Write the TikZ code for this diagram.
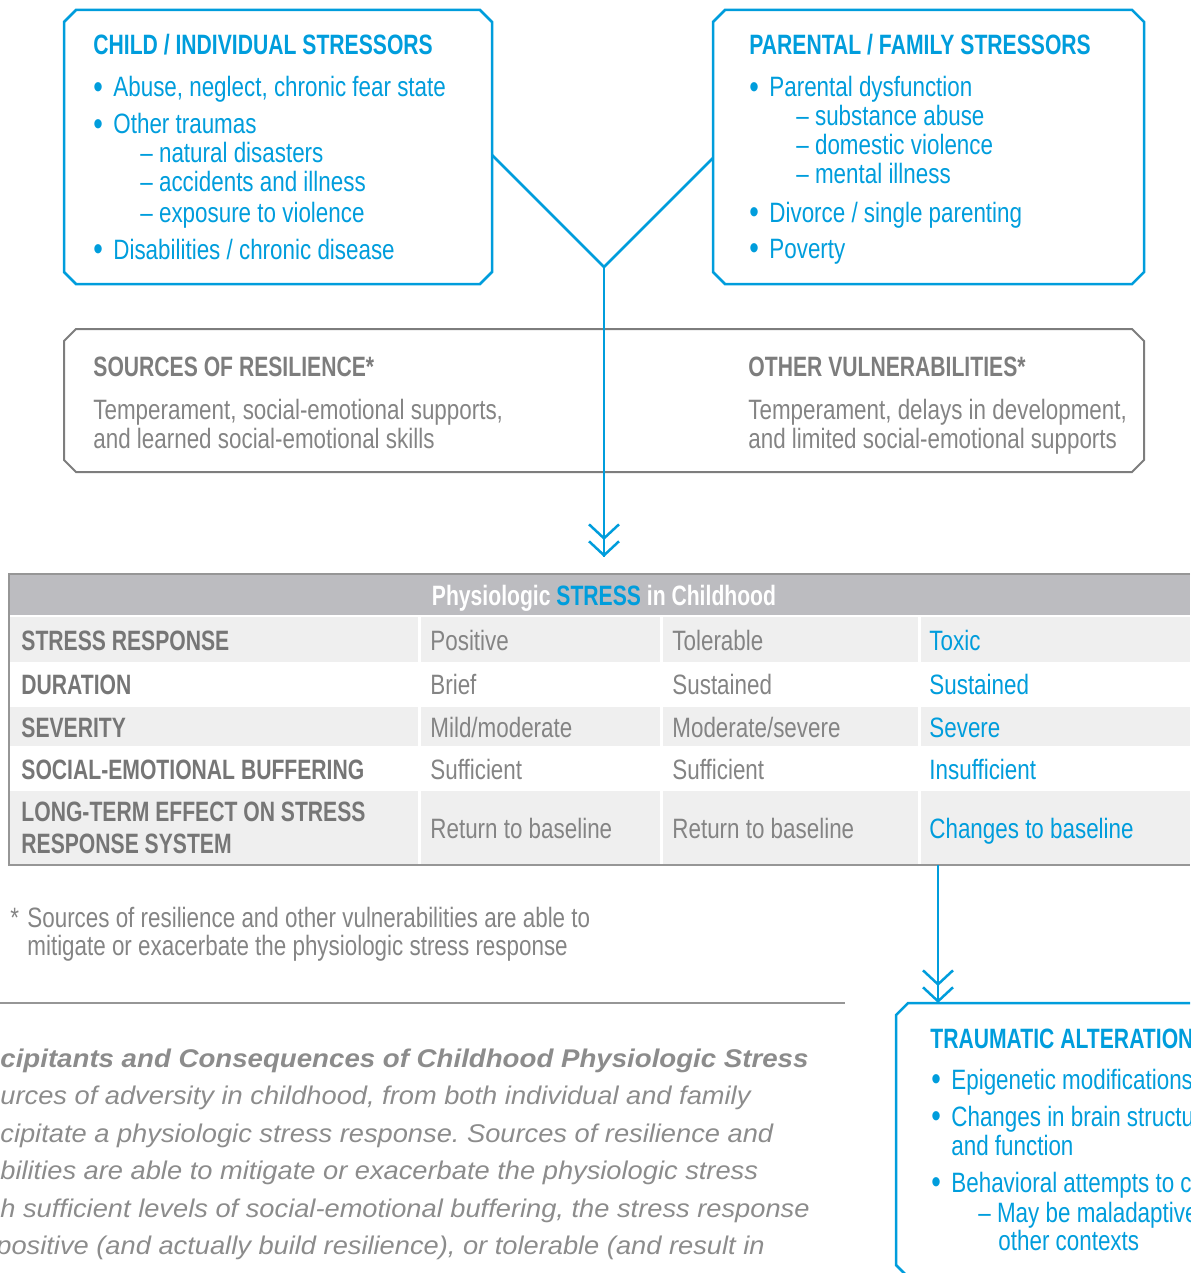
\documentclass[tikz,border=0pt]{standalone}
\usepackage{fontspec}
\setmainfont{Liberation Sans}[FakeStretch=0.8]
\newfontfamily\hdfont{Liberation Sans}[FakeStretch=0.755]
\newfontfamily\capfont{Liberation Sans}[FakeStretch=1.065]
\newfontfamily\capbfont{Liberation Sans}[FakeStretch=1.08]
\usetikzlibrary{arrows.meta,positioning}

\definecolor{stressblue}{RGB}{0,157,220}
\definecolor{boxgray}{RGB}{125,125,125}
\definecolor{headgray}{RGB}{188,188,192}
\definecolor{rowgray}{RGB}{239,239,239}
\definecolor{labgray}{RGB}{118,118,118}
\definecolor{txtgray}{RGB}{132,132,132}
\definecolor{capgray}{RGB}{140,140,140}
\definecolor{linegray}{RGB}{150,150,150}

\newcommand{\basefont}{\fontsize{14pt}{14.75pt}\selectfont}
\newcommand{\itm}{\makebox[10pt][l]{\raisebox{-0.8pt}{\fontsize{17pt}{17pt}\selectfont\textbullet}}}
\newcommand{\dsh}{\textendash\ }
% chamfered outline round a named node
\newcommand{\chamferbox}[2]{\draw[#1] ([xshift=6pt]#2.north west) -- ([xshift=-6pt]#2.north east)
  -- ([yshift=-6pt]#2.north east) -- ([yshift=6pt]#2.south east) -- ([xshift=-6pt]#2.south east)
  -- ([xshift=6pt]#2.south west) -- ([yshift=6pt]#2.south west) -- ([yshift=-6pt]#2.north west) -- cycle;}

\tikzset{
  boxarea/.style={rectangle, draw=none, inner sep=0pt, outer sep=0pt},
  blueedge/.style={draw=stressblue, line width=1.25pt, line join=miter},
  grayedge/.style={draw=boxgray, line width=1pt, line join=miter},
  txt/.style={anchor=base west, inner sep=0pt},
  bluetxt/.style={txt, text=stressblue},
  graytxt/.style={txt, text=txtgray},
  title/.style={txt, font=\hdfont\basefont\bfseries},
  tablab/.style={txt, font=\hdfont\basefont\bfseries, text=labgray},
  tabval/.style={txt, text=txtgray},
  toxval/.style={txt, text=stressblue},
  captxt/.style={txt, text=capgray, font=\capfont\itshape\fontsize{12.8pt}{14pt}\selectfont},
  flowline/.style={draw=stressblue, line width=1.25pt},
  tabline/.style={draw=linegray, line width=1pt},
  dblbarb/.style={-{Straight Barb[length=7pt,width=15pt] Straight Barb[length=7pt,width=15pt]}}
}

\begin{document}
\frenchspacing
\begin{tikzpicture}[x=0.5pt, y=-0.5pt, font=\basefont]
\useasboundingbox (0,0) rectangle (1190,1273);
\clip (0,0) rectangle (1190,1273);

% stressor boxes
\node[boxarea, minimum width=214pt, minimum height=137pt] (child) at (278,147) {};
\node[boxarea, minimum width=215.5pt, minimum height=137pt] (parent) at (928.5,147) {};
\chamferbox{blueedge}{child}
\chamferbox{blueedge}{parent}

\node[title, text=stressblue] (childtitle) at (93,55) {CHILD / INDIVIDUAL STRESSORS};
\foreach \x/\y/\t [count=\i] in {93/97/{\itm Abuse, neglect, chronic fear state}, 93/134/{\itm Other traumas},
    140/163/{\dsh natural disasters}, 140/192/{\dsh accidents and illness}, 140/222/{\dsh exposure to violence},
    93/259/{\itm Disabilities / chronic disease}}
  \node[bluetxt] (c\i) at (\x,\y) {\t};

\node[title, text=stressblue] (parenttitle) at (749,55) {PARENTAL / FAMILY STRESSORS};
\foreach \x/\y/\t [count=\i] in {749/97/{\itm Parental dysfunction}, 796/126/{\dsh substance abuse},
    796/155/{\dsh domestic violence}, 796/184/{\dsh mental illness},
    749/222/{\itm Divorce / single parenting}, 749/258/{\itm Poverty}}
  \node[bluetxt] (p\i) at (\x,\y) {\t};

% resilience / vulnerabilities
\node[boxarea, minimum width=540pt, minimum height=71.5pt] (resil) at (604,400.5) {};
\chamferbox{grayedge}{resil}
\node[title, text=boxgray] (restitle) at (93,376) {SOURCES OF RESILIENCE*};
\node[graytxt] (res1) at (93,419) {Temperament, social-emotional supports,};
\node[graytxt] (res2) at (93,448) {and learned social-emotional skills};
\node[title, text=boxgray] (vultitle) at (748,376) {OTHER VULNERABILITIES*};
\node[graytxt] (vul1) at (748,419) {Temperament, delays in development,};
\node[graytxt] (vul2) at (748,448) {and limited social-emotional supports};

% merging arrow
\coordinate (merge) at (604,267);
\coordinate (tabtop) at (604,557);
\draw[flowline, line join=miter] ([yshift=-4pt]child.east) -- (merge) -- ([yshift=-5.5pt]parent.west);
\draw[flowline] (merge) -- (tabtop);
\draw[flowline, dblbarb] (merge) -- (tabtop);

% table
\fill[headgray] (9,574) rectangle (1190,615);
\foreach \top/\bot/\shade in {617/662/rowgray, 662/707/white, 707/746/rowgray, 746/791/white, 791/865/rowgray}
  \fill[\shade] (9,\top) rectangle (1190,\bot);
\foreach \x in {419,661,919}
  \draw[white, line width=1.5pt] (\x,617) -- (\x,865);
\draw[tabline] (1190,574) -- (9,574) -- (9,865) -- (1190,865);

\node[anchor=base, inner sep=0pt, font=\hdfont\basefont\bfseries, text=white] (head) at (604,605) {Physiologic \textcolor{stressblue}{STRESS} in Childhood};
\foreach \y/\lab/\pos/\tol/\tox [count=\r] in {650/STRESS RESPONSE/Positive/Tolerable/Toxic,
    694/DURATION/Brief/Sustained/Sustained,
    737/SEVERITY/Mild\slash moderate/Moderate\slash severe/Severe,
    779/SOCIAL-EMOTIONAL BUFFERING/Sufficient/Sufficient/Insufficient}{
  \node[tablab] (lab\r) at (21,\y) {\lab};
  \node[tabval] (pos\r) at (430,\y) {\pos};
  \node[tabval] (tol\r) at (672,\y) {\tol};
  \node[toxval] (tox\r) at (929,\y) {\tox};
}
\node[tablab] (lab5) at (21,821) {LONG-TERM EFFECT ON STRESS};
\node[tablab] (lab5b) at (21,853) {RESPONSE SYSTEM};
\node[tabval] (pos5) at (430,838) {Return to baseline};
\node[tabval] (tol5) at (672,838) {Return to baseline};
\node[toxval] (tox5) at (929,838) {Changes to baseline};

% footnote and caption
\node[graytxt] (star) at (10,927) {*};
\node[graytxt] (note1) at (27,927) {Sources of resilience and other vulnerabilities are able to};
\node[graytxt] (note2) at (27,955) {mitigate or exacerbate the physiologic stress response};
\draw[tabline] (0,1003) -- (845,1003);

\node[captxt, font=\capbfont\bfseries\itshape\fontsize{12.8pt}{14pt}\selectfont] (captitle) at (0,1067) {cipitants and Consequences of Childhood Physiologic Stress};
\foreach \x/\y/\t [count=\i] in {0/1104/{urces of adversity in childhood, from both individual and family},
    0/1142/{cipitate a physiologic stress response. Sources of resilience and},
    0/1179/{bilities are able to mitigate or exacerbate the physiologic stress},
    0/1217/{h sufficient levels of social-emotional buffering, the stress response},
    -4/1254/{positive (and actually build resilience), or tolerable (and result in}}
  \node[captxt] (cap\i) at (\x,\y) {\t};

% traumatic alterations
\coordinate (toxbase) at (938,865);
\node[boxarea, minimum width=300pt, minimum height=137pt] (trauma) at (1196,1140) {};
\chamferbox{blueedge}{trauma}
\draw[flowline] (toxbase) -- (toxbase |- trauma.north);
\draw[flowline, dblbarb] (toxbase) -- (toxbase |- trauma.north);
\node[title, text=stressblue] (trtitle) at (930,1048) {TRAUMATIC ALTERATIONS};
\foreach \x/\y/\t [count=\i] in {931/1089/{\itm Epigenetic modifications}, 931/1126/{\itm Changes in brain structure},
    951/1155/{and function}, 931/1192/{\itm Behavioral attempts to cope},
    978/1222/{\dsh May be maladaptive}, 998/1250/{other contexts}}
  \node[bluetxt] (t\i) at (\x,\y) {\t};
\end{tikzpicture}
\end{document}
